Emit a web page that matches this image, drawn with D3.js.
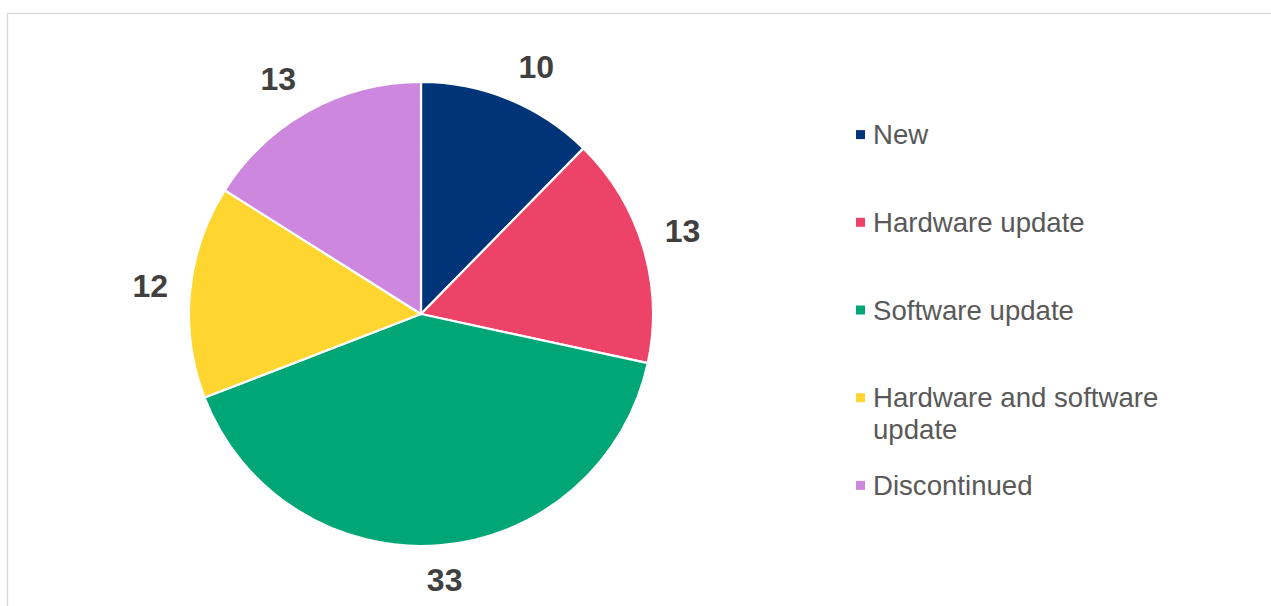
<!DOCTYPE html>
<html>
<head>
<meta charset="utf-8">
<script src="https://cdn.jsdelivr.net/npm/d3@7"></script>
<style>
  html, body { margin: 0; padding: 0; background: #ffffff; }
  svg { display: block; }
</style>
</head>
<body>
<svg id="chart" width="1271" height="606"></svg>
<script>
// Product status breakdown
const categories = ["New", "Hardware update", "Software update", "Hardware and software update", "Discontinued"];
const values = [10, 13, 33, 12, 13];
const colors = ["#003478", "#EE4369", "#00A676", "#FFD530", "#CD87DF"];
// Legend text, split into drawn lines
const legendLines = [["New"], ["Hardware update"], ["Software update"], ["Hardware and software", "update"], ["Discontinued"]];

const W = 1271, H = 606;
const svg = d3.select("#chart");

// Chart area frame
svg.append("rect")
  .attr("x", 7.5).attr("y", 13.5)
  .attr("width", W + 20).attr("height", H + 20)
  .attr("fill", "#ffffff")
  .attr("stroke", "#d9d9d9")
  .attr("stroke-width", 1.4);

const cx = 421, cy = 314, R = 232;

const data = categories.map((c, i) => ({ name: c, value: values[i], color: colors[i] }));

const pie = d3.pie().value(d => d.value).sort(null);
const arc = d3.arc().innerRadius(0).outerRadius(R);
const arcs = pie(data);

const g = svg.append("g").attr("transform", `translate(${cx},${cy})`);

g.selectAll("path.slice")
  .data(arcs)
  .join("path")
  .attr("class", "slice")
  .attr("d", arc)
  .attr("fill", d => d.data.color)
  .attr("stroke", "#ffffff")
  .attr("stroke-width", 2.2)
  .attr("stroke-linejoin", "round");

// Value labels placed outside the slice ends: anchor just beyond the rim,
// then shift the label box away from the pie along each axis.
const labelFont = 32;
const anchorR = R + 18;
const boxHalfW = 22, boxHalfH = 16;
const push = v => Math.max(-1, Math.min(1, 2.5 * v));
g.selectAll("text.value")
  .data(arcs)
  .join("text")
  .attr("class", "value")
  .attr("font-family", "Liberation Sans, Arial, sans-serif")
  .attr("font-weight", "bold")
  .attr("font-size", labelFont)
  .attr("fill", "#404040")
  .attr("text-anchor", "middle")
  .attr("transform", d => {
    const a = (d.startAngle + d.endAngle) / 2;
    const dx = Math.sin(a), dy = -Math.cos(a);
    const x = dx * anchorR + boxHalfW * push(dx);
    const y = dy * anchorR + boxHalfH * push(dy);
    return `translate(${x},${y + labelFont * 0.355})`;
  })
  .text(d => d.value);

// Legend
const legendY = d3.scalePoint()
  .domain(categories)
  .range([134.6, 485.4]);

const legend = svg.append("g");
const items = legend.selectAll("g.item")
  .data(data)
  .join("g")
  .attr("class", "item")
  .attr("transform", d => `translate(0,${legendY(d.name)})`);

items.append("rect")
  .attr("x", 856).attr("y", -4.5)
  .attr("width", 9).attr("height", 9)
  .attr("fill", d => d.color);

const legendFont = 27.6;
items.append("text")
  .attr("x", 873)
  .attr("y", legendFont * 0.35)
  .attr("font-family", "Liberation Sans, Arial, sans-serif")
  .attr("font-size", legendFont)
  .attr("fill", "#595959")
  .each(function(d, i) {
    const t = d3.select(this);
    legendLines[i].forEach((line, j) => {
      t.append("tspan")
        .attr("x", 873)
        .attr("dy", j === 0 ? 0 : 32)
        .text(line);
    });
  });
</script>
</body>
</html>
